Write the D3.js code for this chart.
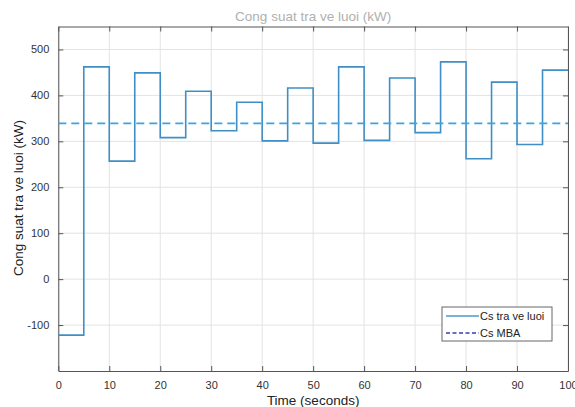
<!DOCTYPE html>
<html>
<head>
<meta charset="utf-8">
<script src="https://cdn.jsdelivr.net/npm/d3@7"></script>
<style>
  body { margin: 0; background: #fff; }
  text { font-family: "Liberation Sans", Arial, sans-serif; }
</style>
</head>
<body>
<div id="chart"></div>
<script>
// step starts (s) and power sent to grid (kW)
const stepTimes = [0, 5, 10, 15, 20, 25, 30, 35, 40, 45, 50, 55, 60, 65, 70, 75, 80, 85, 90, 95, 100];
const powerValues = [-122, 462, 257, 449, 308, 409, 323, 385, 301, 416, 296, 462, 302, 438, 319, 473, 262, 429, 293, 455, 455];
const mbaValue = 339;
const xTicks = [0, 10, 20, 30, 40, 50, 60, 70, 80, 90, 100];
const yTicks = [-100, 0, 100, 200, 300, 400, 500];
const legendLabels = ['Cs tra ve luoi', 'Cs MBA'];

const width = 575;
const height = 407;
const margin = { top: 26.5, right: 7, bottom: 36, left: 58.3 };

const svg = d3.select('#chart')
    .append('svg')
    .attr('width', width)
    .attr('height', height);

const x = d3.scaleLinear()
    .domain([0, 100])
    .range([margin.left, width - margin.right]);

const y = d3.scaleLinear()
    .domain([-200, 550])
    .range([height - margin.bottom, margin.top]);

// grid
svg.append('g')
    .selectAll('line')
    .data(xTicks)
    .enter()
    .append('line')
    .attr('x1', (d) => x(d)).attr('x2', (d) => x(d))
    .attr('y1', y(-200)).attr('y2', y(550))
    .attr('stroke', '#e3e3e3')
    .attr('stroke-width', 1);

svg.append('g')
    .selectAll('line')
    .data(yTicks)
    .enter()
    .append('line')
    .attr('x1', x(0)).attr('x2', x(100))
    .attr('y1', (d) => y(d)).attr('y2', (d) => y(d))
    .attr('stroke', '#e3e3e3')
    .attr('stroke-width', 1);

// axes (ticks inside like matlab)
const axisColor = '#555';
const plain = (d) => String(d);
const xAxis = svg.append('g')
    .attr('transform', `translate(0,${y(-200)})`)
    .call(d3.axisBottom(x).tickValues(xTicks).tickFormat(plain).tickSizeInner(-5).tickSizeOuter(0).tickPadding(10));
const xAxisTop = svg.append('g')
    .attr('transform', `translate(0,${y(550)})`)
    .call(d3.axisTop(x).tickValues(xTicks).tickSizeInner(-5).tickSizeOuter(0).tickFormat(''));
const yAxis = svg.append('g')
    .attr('transform', `translate(${x(0)},0)`)
    .call(d3.axisLeft(y).tickValues(yTicks).tickFormat(plain).tickSizeInner(-5).tickSizeOuter(0).tickPadding(9));
const yAxisRight = svg.append('g')
    .attr('transform', `translate(${x(100)},0)`)
    .call(d3.axisRight(y).tickValues(yTicks).tickSizeInner(-5).tickSizeOuter(0).tickFormat(''));

[xAxis, xAxisTop, yAxis, yAxisRight].forEach((g) => {
    g.select('.domain').attr('stroke', axisColor);
    g.selectAll('.tick line').attr('stroke', axisColor);
    g.selectAll('text')
        .attr('fill', '#333')
        .style('font-size', '11px');
});

// step line
const stepLine = d3.line()
    .x((d) => x(d[0]))
    .y((d) => y(d[1]))
    .curve(d3.curveStepAfter);

svg.append('path')
    .datum(stepTimes.map((t, i) => [t, powerValues[i]]))
    .attr('d', stepLine)
    .attr('fill', 'none')
    .attr('stroke', '#3f8fc6')
    .attr('stroke-width', 1.6);

// MBA line
svg.append('line')
    .attr('x1', x(0)).attr('x2', x(100))
    .attr('y1', y(mbaValue)).attr('y2', y(mbaValue))
    .attr('stroke', '#3aa3e3')
    .attr('stroke-width', 1.8)
    .attr('stroke-dasharray', '8,5');

// title and labels
svg.append('text')
    .attr('x', (x(0) + x(100)) / 2)
    .attr('y', 21)
    .attr('text-anchor', 'middle')
    .attr('fill', '#b0b0b0')
    .style('font-size', '13.5px')
    .text('Cong suat tra ve luoi (kW)');

svg.append('text')
    .attr('x', (x(0) + x(100)) / 2)
    .attr('y', 405)
    .attr('text-anchor', 'middle')
    .attr('fill', '#222')
    .style('font-size', '13.5px')
    .text('Time (seconds)');

svg.append('text')
    .attr('transform', 'translate(23,198) rotate(-90)')
    .attr('text-anchor', 'middle')
    .attr('fill', '#222')
    .style('font-size', '13.5px')
    .text('Cong suat tra ve luoi (kW)');

// legend
const legend = svg.append('g').attr('transform', 'translate(442,307)');
legend.append('rect')
    .attr('width', 110)
    .attr('height', 34)
    .attr('fill', '#fff')
    .attr('stroke', '#666')
    .attr('stroke-width', 1);

const legendStyles = [
    { color: '#4d9ac9', dash: null },
    { color: '#3a3fb0', dash: '4,2.5' }
];

legend.selectAll('.item')
    .data(legendLabels)
    .enter()
    .append('g')
    .attr('class', 'item')
    .attr('transform', (d, i) => `translate(0,${9 + i * 17})`)
    .each(function(d, i) {
        const g = d3.select(this);
        g.append('line')
            .attr('x1', 4).attr('x2', 37)
            .attr('y1', 0).attr('y2', 0)
            .attr('stroke', legendStyles[i].color)
            .attr('stroke-width', 1.5)
            .attr('stroke-dasharray', legendStyles[i].dash);
        g.append('text')
            .attr('x', 38)
            .attr('y', 4)
            .attr('fill', '#222')
            .style('font-size', '11px')
            .text(d);
    });
</script>
</body>
</html>
